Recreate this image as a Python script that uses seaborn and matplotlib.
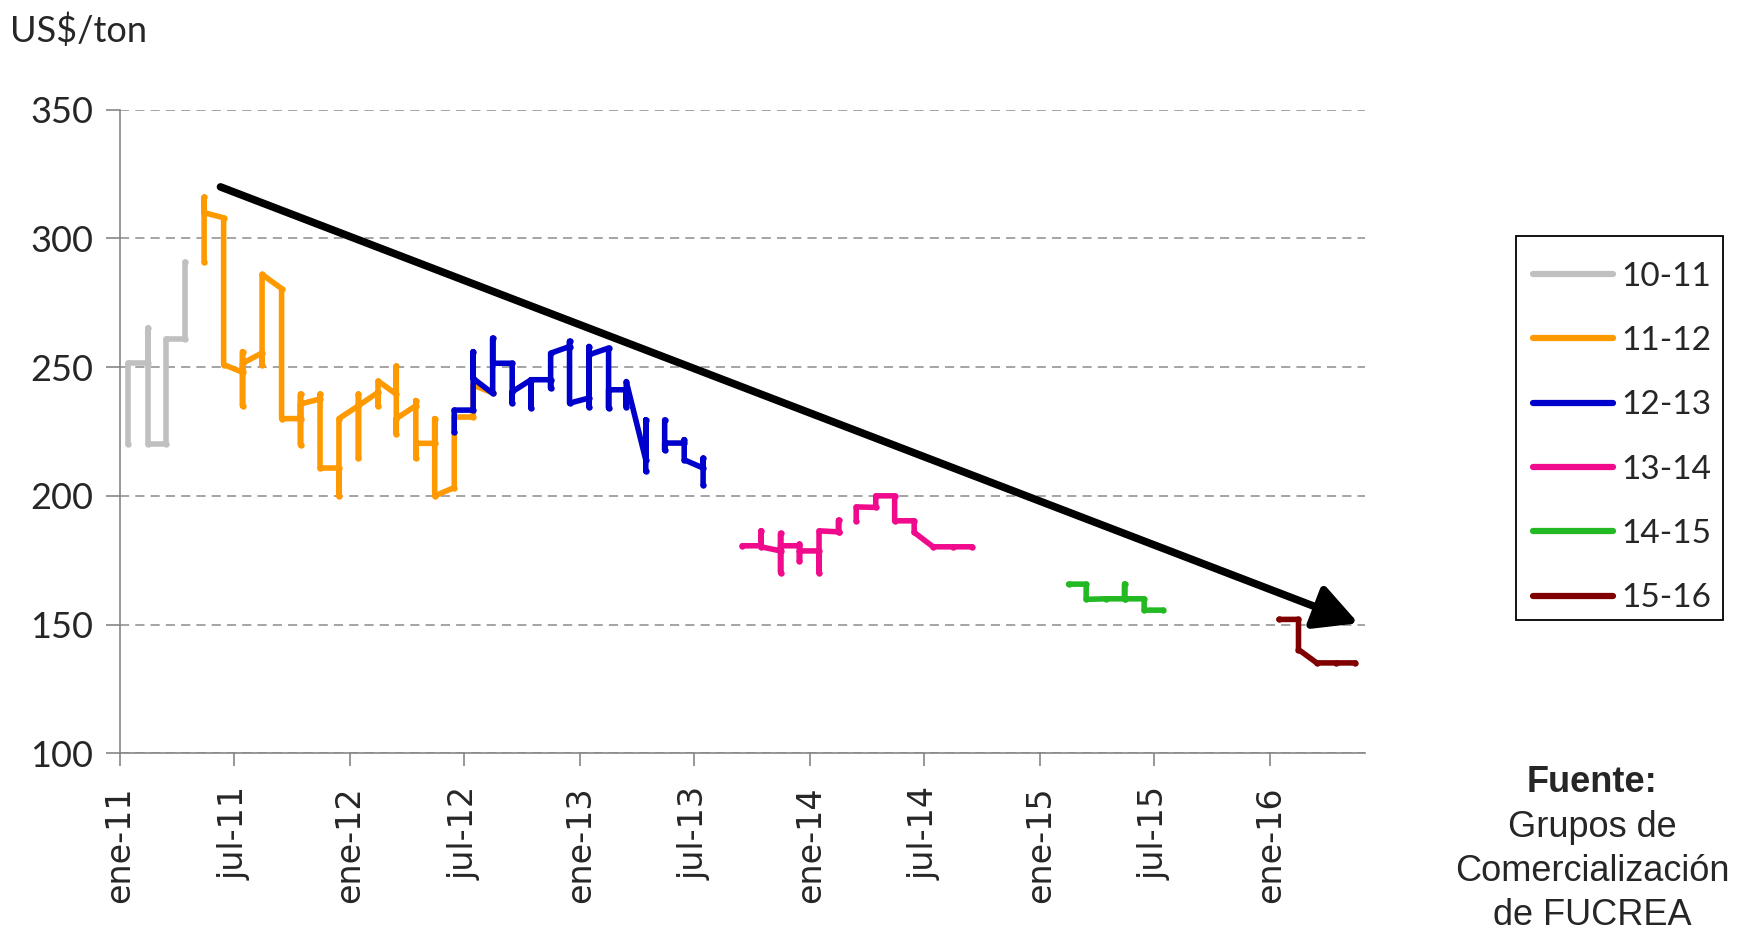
import pandas as pd
import matplotlib
matplotlib.use("Agg")
import matplotlib.pyplot as plt
import matplotlib.dates as mdates
from matplotlib.lines import Line2D
from matplotlib.patches import Rectangle
import seaborn as sns

# --- datos: precio mensual (US$/ton) por zafra ---
# varios valores en el mismo mes dibujan los saltos verticales; None corta el trazo
zafras = ["10-11", "11-12", "12-13", "13-14", "14-15", "15-16"]
colores = ["#C0C0C0", "#FF9900", "#0000CC", "#F00A8C", "#22B922", "#800000"]

meses_1011 = ["2011-01", "2011-01", "2011-02", "2011-02", "2011-02",
              "2011-03", "2011-03", "2011-04", "2011-04"]
precios_1011 = [220, 251.5, 251.5, 265, 220, 220, 261, 261, 291]

meses_1112 = ["2011-05", "2011-05", "2011-05", "2011-06", "2011-06",
              "2011-07", "2011-07", "2011-07", "2011-07",
              "2011-08", "2011-08", "2011-08", "2011-09", "2011-09",
              "2011-10", "2011-10", "2011-10", "2011-10",
              "2011-11", "2011-11", "2011-11", "2011-12", "2011-12", "2011-12",
              "2012-01", "2012-01", "2012-01", "2012-01",
              "2012-02", "2012-02", "2012-02",
              "2012-03", "2012-03", "2012-03", "2012-03",
              "2012-04", "2012-04", "2012-04", "2012-04",
              "2012-05", "2012-05", "2012-05", "2012-06", "2012-06",
              "2012-07", "2012-07", "2012-08"]
precios_1112 = [291, 316, 310, 308, 251,
                248, 256, 235, 251.5,
                255.5, 251, 286, 280.5, 230,
                230, 239.5, 219.8, 235.7,
                237.6, 239.5, 210.8, 210.8, 200, 230,
                235, 239.5, 214.7, 235,
                240.2, 235, 244.6,
                239.5, 250.4, 224.2, 230,
                235, 237, 214.7, 220.4,
                220.4, 230, 200, 203.2, 230.6,
                230.6, 243, 240]

meses_1213 = ["2012-06", "2012-06", "2012-07", "2012-07", "2012-07",
              "2012-08", "2012-08", "2012-08", "2012-09", "2012-09", "2012-09",
              "2012-10", "2012-10", "2012-10", "2012-11", "2012-11", "2012-11",
              "2012-12", "2012-12", "2012-12",
              "2013-01", "2013-01", "2013-01", "2013-01",
              "2013-02", "2013-02", "2013-02", "2013-03", "2013-03", "2013-03",
              "2013-04", "2013-04", "2013-04", None,
              "2013-05", "2013-05", "2013-05", "2013-06", "2013-06", "2013-06",
              "2013-07", "2013-07", "2013-07"]
precios_1213 = [224.9, 233.3, 233.3, 256, 245.6,
                239.8, 261.2, 251.5, 251.5, 236, 240.4,
                245.1, 234.1, 245.1, 245.1, 241.8, 255.4,
                258, 260, 236,
                238, 258, 234.7, 254.8,
                257.4, 234.1, 241.2, 241.2, 234.7, 244.4,
                214, 229.5, 209.5, None,
                229.5, 217.9, 220.5, 220.5, 221.8, 214,
                210.8, 214.6, 204.3]

meses_1314 = ["2013-09", "2013-10", "2013-10", "2013-10",
              "2013-11", "2013-11", "2013-11", "2013-11",
              "2013-12", "2013-12", "2013-12", "2013-12",
              "2014-01", "2014-01", "2014-01", "2014-02", "2014-02", "2014-02", None,
              "2014-03", "2014-03", "2014-04", "2014-04", "2014-05", "2014-05",
              "2014-06", "2014-06", "2014-07", "2014-08", "2014-09"]
precios_1314 = [180.6, 180.6, 186.4, 180.2,
                178.6, 185.4, 170.2, 180.6,
                180.6, 181.2, 174.7, 178.6,
                178.6, 170.2, 186.4, 186, 190.5, 185.8, None,
                190.3, 195.7, 195.5, 200, 200, 190.3,
                190.3, 185.8, 180.2, 180.2, 180.2]

meses_1415 = ["2015-02", "2015-03", "2015-03", "2015-04",
              "2015-05", "2015-05", "2015-05", "2015-06", "2015-06", "2015-07"]
precios_1415 = [165.7, 165.7, 159.8, 160, 160, 165.7, 160, 160, 155.6, 155.6]

meses_1516 = ["2016-01", "2016-02", "2016-02", "2016-03", "2016-04", "2016-05"]
precios_1516 = [152, 152, 140.3, 135.1, 135.1, 135.1]

# flecha de tendencia (fecha, precio)
flecha_desde = ("2011-06-10", 320)
flecha_hasta = ("2016-05-20", 150.5)

nombres_mes = {1: "ene", 7: "jul"}

# --- armar tabla larga ---
series = zip(zafras,
             [meses_1011, meses_1112, meses_1213, meses_1314, meses_1415, meses_1516],
             [precios_1011, precios_1112, precios_1213, precios_1314, precios_1415, precios_1516])
filas = []
for zafra, meses, precios in series:
    tramo = 0
    for m, p in zip(meses, precios):
        if m is None:
            tramo += 1
            continue
        filas.append({"zafra": zafra, "tramo": f"{zafra}_{tramo}",
                      "fecha": pd.Timestamp(m + "-15"), "precio": p})
df = pd.DataFrame(filas)

# --- estilo ---
sns.set_style("white")
plt.rcParams["font.family"] = ["Lato", "DejaVu Sans"]

fig, ax = plt.subplots(figsize=(17.37, 9.31), dpi=100)
fig.subplots_adjust(left=0.0689, right=0.786, bottom=0.1909, top=0.8822)

paleta = dict(zip(zafras, colores))
sns.lineplot(data=df, x="fecha", y="precio", hue="zafra", hue_order=zafras,
             units="tramo", estimator=None, sort=False, palette=paleta,
             linewidth=4.0, marker="o", markersize=4.6, markeredgewidth=0,
             solid_capstyle="round", solid_joinstyle="round",
             legend=False, ax=ax)

# flecha
ax.annotate("", xy=(mdates.date2num(pd.Timestamp(flecha_hasta[0])), flecha_hasta[1]),
            xytext=(mdates.date2num(pd.Timestamp(flecha_desde[0])), flecha_desde[1]),
            arrowprops=dict(arrowstyle="-|>,head_length=1.3,head_width=0.68",
                            mutation_scale=20, lw=5.5, color="black",
                            shrinkA=0, shrinkB=0))

# ejes
ax.set_ylim(100, 350)
ax.set_yticks(range(100, 351, 50))
ax.set_xlim(pd.Timestamp("2011-01-01"), pd.Timestamp("2016-05-31"))
ax.xaxis.set_major_locator(mdates.MonthLocator(bymonth=[1, 7]))
ax.xaxis.set_major_formatter(plt.FuncFormatter(
    lambda v, pos: f"{nombres_mes[mdates.num2date(v).month]}-{mdates.num2date(v):%y}"))
ax.set_xlabel("")
ax.set_ylabel("")

ax.yaxis.grid(True, linestyle=(0, (6, 4)), color="#8c8c8c", linewidth=1.1)
ax.xaxis.grid(False)
for lado in ["top", "right"]:
    ax.spines[lado].set_visible(False)
for lado in ["left", "bottom"]:
    ax.spines[lado].set_color("#868686")
    ax.spines[lado].set_linewidth(1.2)

ax.tick_params(axis="y", left=True, direction="out", length=10, width=1.2,
               color="#868686", pad=9, labelsize=26)
ax.tick_params(axis="x", bottom=True, direction="out", length=9.5, width=1.2,
               color="#868686", pad=14, labelsize=24, labelrotation=90)
for t in ax.get_xticklabels():
    t.set_fontfamily("DejaVu Sans")

# textos
fig.text(10 / 1737, 1 - 31 / 931, "US$/ton", fontsize=26, va="center", ha="left")
fig.text(0.9165, 1 - 783 / 931, "Fuente:", fontsize=26, fontweight="bold",
         family="Liberation Sans", ha="center", va="center")
fig.text(0.9165, 1 - 871.5 / 931, "Grupos de\nComercialización\nde FUCREA",
         fontsize=26, family="Liberation Sans", ha="center", va="center",
         linespacing=1.33)

# leyenda (marco dibujado aparte)
fig.patches.append(Rectangle((0.8728, 1 - 620 / 931), 0.1192, 384 / 931,
                             transform=fig.transFigure, facecolor="white",
                             edgecolor="black", linewidth=1.3, zorder=0))
manijas = [Line2D([], [], color=c, lw=4.5, solid_capstyle="round") for c in colores]
fig.legend(manijas, zafras, loc="upper left", bbox_to_anchor=(0.8728, 1 - 245 / 931),
           fontsize=24, handlelength=2.4, handletextpad=0.25, labelspacing=1.03,
           borderpad=0.5, borderaxespad=0, frameon=False)

fig.savefig("out.png", dpi=100)
